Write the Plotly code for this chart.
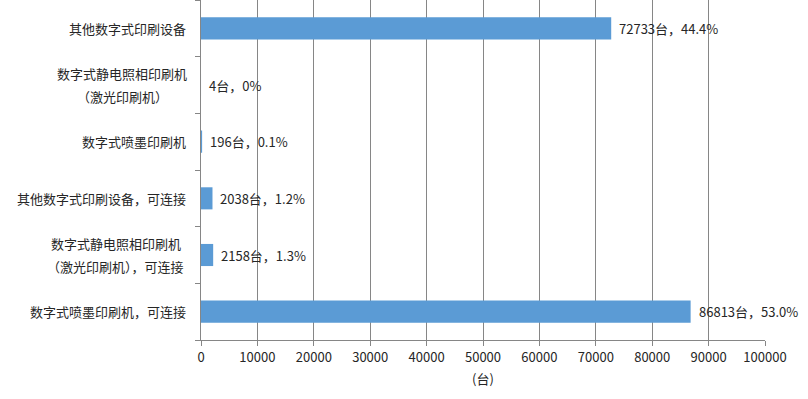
import plotly.graph_objects as go

categories = [
    "数字式喷墨印刷机，可连接",
    "数字式静电照相印刷机<br>（激光印刷机），可连接",
    "其他数字式印刷设备，可连接",
    "数字式喷墨印刷机",
    "数字式静电照相印刷机<br>（激光印刷机）",
    "其他数字式印刷设备",
]
values = [86813, 2158, 2038, 196, 4, 72733]
percents = ["53.0%", "1.3%", "1.2%", "0.1%", "0%", "44.4%"]
unit = "台"
x_ticks = [0, 10000, 20000, 30000, 40000, 50000, 60000, 70000, 80000, 90000, 100000]

labels = [f"{v}{unit}，{p}" for v, p in zip(values, percents)]

FONT = "Noto Sans CJK SC, Microsoft YaHei, sans-serif"
GRID = "#868686"
TXT = "#262626"
FS = 13

fig = go.Figure(
    go.Bar(
        x=values,
        y=categories,
        orientation="h",
        marker=dict(color="#5b9bd5", line=dict(width=0)),
        hoverinfo="skip",
    )
)

annotations = []
# data labels at bar ends
for cat, v, lab in zip(categories, values, labels):
    annotations.append(dict(
        x=v, y=cat, xref="x", yref="y", text=lab, showarrow=False,
        xanchor="left", yanchor="middle", xshift=6,
        font=dict(size=FS, color=TXT, family=FONT),
    ))

# category labels (block right-aligned, lines centred, wider line spacing)
GAP = 14
for cat in categories:
    lines = cat.split("<br>")
    if len(lines) == 1:
        annotations.append(dict(
            x=0, y=cat, xref="paper", yref="y", text=cat, showarrow=False,
            xanchor="right", yanchor="middle", xshift=-GAP + 1,
            font=dict(size=FS, color=TXT, family=FONT),
        ))
    else:
        block_w = max(len(l) for l in lines) * FS
        n = len(lines)
        for i, line in enumerate(lines):
            annotations.append(dict(
                x=0, y=cat, xref="paper", yref="y", text=line, showarrow=False,
                xanchor="center", yanchor="middle",
                xshift=-GAP - block_w / 2,
                yshift=(n - 1) * 11.5 - i * 23,
                font=dict(size=FS, color=TXT, family=FONT),
            ))

fig.update_layout(
    width=808,
    height=399,
    margin=dict(l=201, r=43, t=0, b=59),
    paper_bgcolor="white",
    plot_bgcolor="white",
    bargap=0.61,
    showlegend=False,
    font=dict(family=FONT, size=FS, color=TXT),
    annotations=annotations,
)

fig.update_xaxes(
    range=[0, 100000],
    tickvals=x_ticks,
    ticktext=[str(t) for t in x_ticks],
    showgrid=True,
    gridcolor=GRID,
    gridwidth=1,
    showline=True,
    linecolor=GRID,
    ticks="outside",
    ticklen=5,
    tickcolor=GRID,
    tickfont=dict(size=FS, color=TXT),
    title=dict(text="(台)", font=dict(size=FS, color=TXT), standoff=10),
    zeroline=False,
    automargin=False,
    fixedrange=True,
)

fig.update_yaxes(
    type="category",
    categoryorder="array",
    categoryarray=categories,
    showline=True,
    linecolor=GRID,
    ticks="outside",
    tickson="boundaries",
    ticklen=5,
    tickcolor=GRID,
    showgrid=False,
    showticklabels=False,
    automargin=False,
    fixedrange=True,
)

fig.write_html(
    "out.html",
    config={"displayModeBar": False, "staticPlot": True},
    post_script="document.body.style.margin='0';document.body.style.overflow='hidden';",
)
